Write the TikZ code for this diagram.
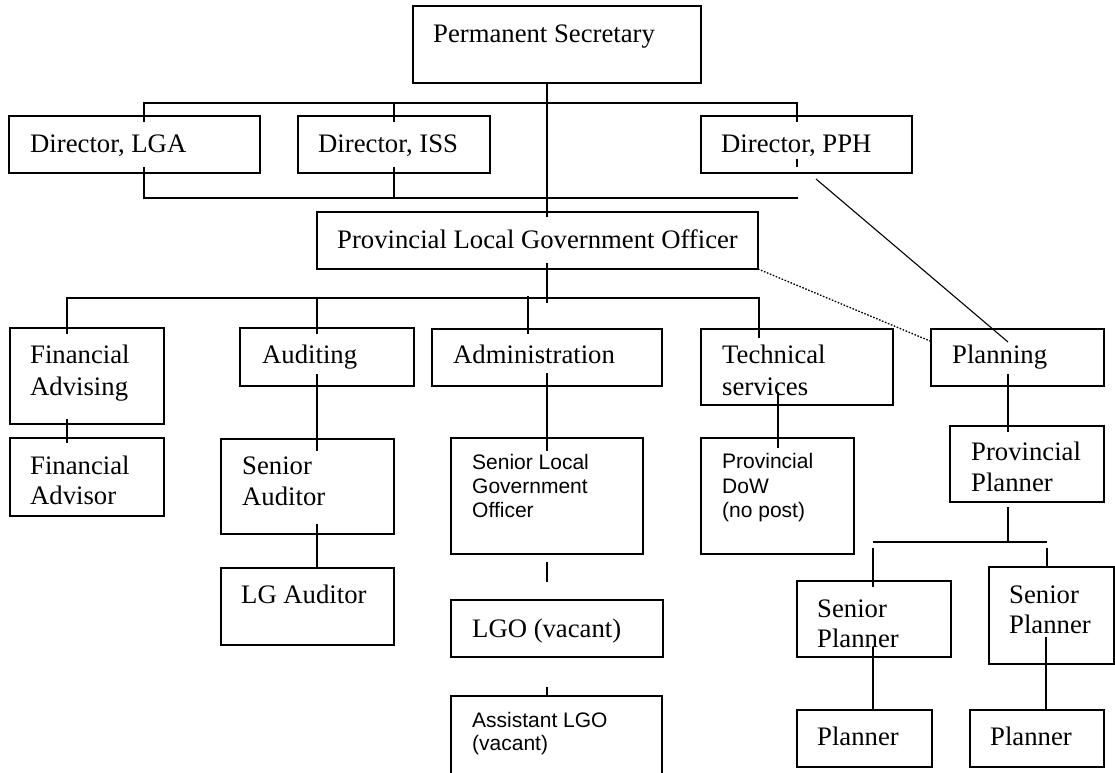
\documentclass[tikz,border=0pt]{standalone}
\usepackage{fontspec}
\setmainfont{Liberation Serif}
\newfontfamily\arialf{Liberation Sans}
\usetikzlibrary{fit}
\tikzset{
  box/.style={draw=black, line width=1.8pt, inner sep=0pt, outer sep=0pt, rectangle},
  conn/.style={draw=black, line width=1.8pt},
  thinconn/.style={draw=black, line width=1.1pt},
  dotconn/.style={draw=black, line width=1.3pt, dash pattern=on 1.6pt off 1.6pt},
  tt/.style={anchor=base west, inner sep=0pt, font=\fontsize{26.7}{30}\selectfont},
  ts/.style={anchor=base west, inner sep=0pt, font=\arialf\fontsize{21}{24}\selectfont}
}
\begin{document}
\begin{tikzpicture}[x=1pt, y=-1pt]
\useasboundingbox (0,0) rectangle (1115,772);
\clip (0,0) rectangle (1115,772);
\fill[white] (0,0) rectangle (1115,772);

% boxes
\node[box, fit={(413,6) (701,83)}] (ps) {};
\node[box, fit={(9,116) (260,173)}] (dlga) {};
\node[box, fit={(298,116) (490,173)}] (diss) {};
\node[box, fit={(701,116) (912,173)}] (dpph) {};
\node[box, fit={(317,212) (758,269)}] (plgo) {};
\node[box, fit={(10,328) (164,424)}] (fadv) {};
\node[box, fit={(240,328) (414,386)}] (aud) {};
\node[box, fit={(432,329) (662,386)}] (adm) {};
\node[box, fit={(701,329) (893,405)}] (tech) {};
\node[box, fit={(931,329) (1104,386)}] (plan) {};
\node[box, fit={(10,438) (164,516)}] (fa) {};
\node[box, fit={(221,439) (394,534)}] (sa) {};
\node[box, fit={(221,568) (394,645)}] (lga) {};
\node[box, fit={(451,438) (643,554)}] (slgo) {};
\node[box, fit={(451,600) (663,657)}] (lgo) {};
\node[box, fit={(451,696) (662,800)}] (algo) {};
\node[box, fit={(701,438) (854,554)}] (dow) {};
\node[box, fit={(950,426) (1104,502)}] (pp) {};
\node[box, fit={(797,581) (951,657)}] (sp1) {};
\node[box, fit={(989,567) (1114,664)}] (sp2) {};
\node[box, fit={(797,710) (932,767)}] (pl1) {};
\node[box, fit={(970,710) (1104,767)}] (pl2) {};

% texts
\node[tt] (t-ps) at (433,42) {Permanent Secretary};
\node[tt] (t-dlga) at (30,152) {Director, LGA};
\node[tt] (t-diss) at (318,152) {Director, ISS};
\node[tt] (t-dpph) at (721,152) {Director, PPH};
\node[tt] (t-plgo) at (337,248) {Provincial Local Government Officer};
\node[tt] (t-fadv1) at (30,363) {Financial};
\node[tt] (t-fadv2) at (30,395) {Advising};
\node[tt] (t-aud) at (262,363) {Auditing};
\node[tt] (t-adm) at (453,363) {Administration};
\node[tt] (t-tech1) at (722,363) {Technical};
\node[tt] (t-tech2) at (722,395) {services};
\node[tt] (t-plan) at (952,363) {Planning};
\node[tt] (t-fa1) at (30,474) {Financial};
\node[tt] (t-fa2) at (30,504) {Advisor};
\node[tt] (t-sa1) at (242,474) {Senior};
\node[tt] (t-sa2) at (242,505) {Auditor};
\node[tt] (t-lga) at (241,603) {LG Auditor};
\node[ts] (t-slgo1) at (472,469) {Senior Local};
\node[ts] (t-slgo2) at (472,493) {Government};
\node[ts] (t-slgo3) at (472,517) {Officer};
\node[tt] (t-lgo) at (472,637) {LGO (vacant)};
\node[ts] (t-algo1) at (472,727) {Assistant LGO};
\node[ts] (t-algo2) at (472,750) {(vacant)};
\node[ts] (t-dow1) at (722,468) {Provincial};
\node[ts] (t-dow2) at (722,493) {DoW};
\node[ts] (t-dow3) at (722,517) {(no post)};
\node[tt] (t-pp1) at (971,460) {Provincial};
\node[tt] (t-pp2) at (971,491) {Planner};
\node[tt] (t-sp11) at (817,617) {Senior};
\node[tt] (t-sp12) at (817,647) {Planner};
\node[tt] (t-sp21) at (1009,603) {Senior};
\node[tt] (t-sp22) at (1009,633) {Planner};
\node[tt] (t-pl1) at (817,745) {Planner};
\node[tt] (t-pl2) at (990,745) {Planner};

% connector coordinates
\coordinate (mainx) at (547,0);
\coordinate (b1l) at (144,103);
\coordinate (b1r) at (797,103);
\coordinate (b2l) at (144,198);
\coordinate (b2r) at (798,198);
\coordinate (b3l) at (67,298);
\coordinate (b3r) at (759,298);
\coordinate (b4l) at (873,542);
\coordinate (b4r) at (1047,542);

% Permanent Secretary down to PLGO
\draw[conn] (ps.south -| mainx) -- ([yshift=-5pt]plgo.north -| mainx);
% upper bus to directors
\draw[conn] ([yshift=-6pt]dlga.north -| b1l) -- (b1l) -- (b1r) -- ([yshift=-6pt]dpph.north -| b1r);
\draw[conn] (394,103) -- ([yshift=-6pt]diss.north -| 394,0);
% lower bus from directors
\draw[conn] ([yshift=6pt]dlga.south -| b2l) -- (b2l) -- (b2r);
\draw[conn] ([yshift=6pt]diss.south -| 394,0) -- (394,198);
\draw[conn] ([yshift=6pt]dpph.south -| b1r) -- ([yshift=14pt]dpph.south -| b1r);
% PPH to Planning (thin), PLGO to Planning (dotted)
\draw[thinconn] (816,179) -- (1008,342);
\draw[dotconn] (plgo.south east) -- (930,341);
% PLGO down to section bus
\draw[conn] ([yshift=6pt]plgo.south -| mainx) -- (547,303);
\draw[conn] ([yshift=-6pt]fadv.north -| b3l) -- (b3l) -- (b3r) -- ([yshift=-9pt]tech.north -| b3r);
\draw[conn] (317,298) -- ([yshift=-6pt]aud.north -| 317,0);
\draw[conn] (528,296) -- ([yshift=-5pt]adm.north -| 528,0);
% Financial
\draw[conn] ([yshift=5pt]fadv.south -| b3l) -- ([yshift=-5pt]fa.north -| b3l);
% Auditing
\draw[conn] ([yshift=12pt]aud.south -| 317,0) -- ([yshift=-12pt]sa.north -| 317,0);
\draw[conn] ([yshift=10pt]sa.south -| 317,0) -- (lga.north -| 317,0);
% Administration
\draw[conn] ([yshift=13pt]adm.south -| mainx) -- ([yshift=-13pt]slgo.north -| mainx);
\draw[conn] (547,562) -- (547,582);
\draw[conn] (547,687) -- (algo.north -| mainx);
% Technical
\draw[conn] ([yshift=13pt]tech.south -| 778,0) -- ([yshift=-10pt]dow.north -| 778,0);
% Planning
\draw[conn] ([yshift=12pt]plan.south -| 1008,0) -- ([yshift=-6pt]pp.north -| 1008,0);
\draw[conn] ([yshift=-5pt]pp.south -| 1008,0) -- (1008,543);
\draw[conn] (b4l) -- (b4r);
\draw[conn] (873,548) -- ([yshift=-6pt]sp1.north -| b4l);
\draw[conn] (1047,548) -- (sp2.north -| b4r);
\draw[conn] ([yshift=10pt]sp1.south -| b4l) -- (pl1.north -| b4l);
\draw[conn] ([yshift=27pt]sp2.south -| 1046,0) -- (pl2.north -| 1046,0);
\end{tikzpicture}
\end{document}
